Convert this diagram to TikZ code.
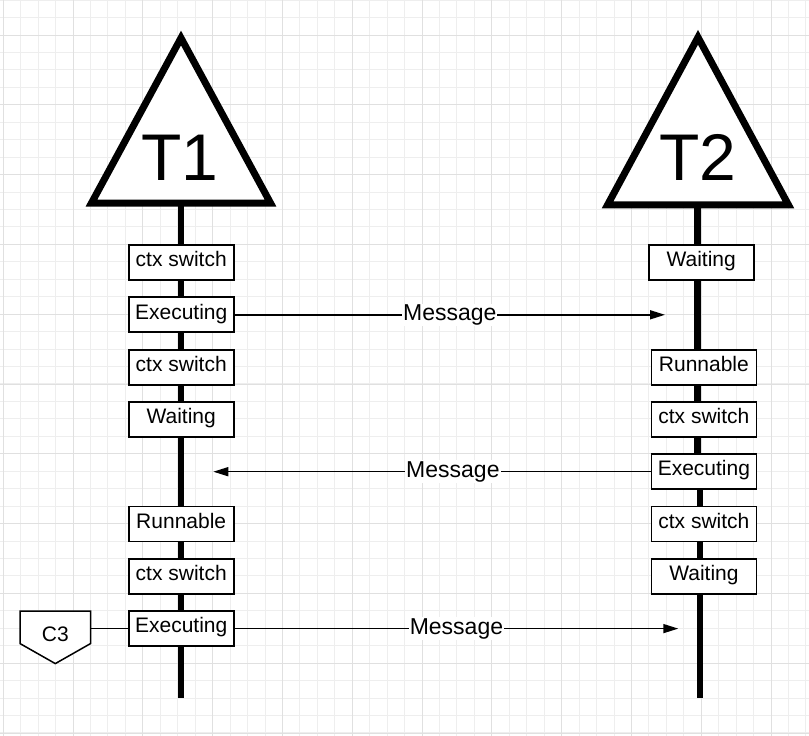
\documentclass[tikz,border=0pt]{standalone}
\usepackage{fontspec}
\setmainfont{Liberation Sans}
\usetikzlibrary{arrows.meta}
\definecolor{gridminor}{HTML}{EEEEEE}
\definecolor{gridmajor}{HTML}{E0E0E0}
\begin{document}
\begin{tikzpicture}[x=1pt,y=-1pt,
  statebox/.style={draw, line width=1.8pt, fill=white, minimum width=105pt,
    minimum height=35pt, inner sep=0pt, text height=15pt, text depth=6.6pt,
    font=\fontsize{21}{25}\selectfont},
  lifeline/.style={line width=6.7pt},
  thread/.style={draw, line width=7pt, line join=miter, fill=white},
  threadlabel/.style={anchor=base, inner sep=0pt, font=\fontsize{66}{70}\selectfont},
  msg/.style={line width=1.5pt, -{Triangle[length=15pt,width=9pt]}},
  msglabel/.style={fill=white, inner sep=1pt, font=\fontsize{23}{27}\selectfont},
  c3box/.style={minimum width=70pt, minimum height=34.6pt, inner sep=0pt},
  c3text/.style={inner sep=0pt, font=\fontsize{21}{25}\selectfont},
  plainline/.style={line width=1.5pt}
]
\useasboundingbox (0,0) rectangle (809,736);
\fill[white] (0,0) rectangle (809,736);
% grid (snapped to pixel centres)
\foreach \i in {0,...,46} \draw[gridminor, line width=1pt] ({floor(3.3+17.45*\i)+0.5},0) -- ({floor(3.3+17.45*\i)+0.5},736);
\foreach \j in {0,...,42} \draw[gridminor, line width=1pt] (0,{floor(0.1+17.45*\j)+0.5}) -- (809,{floor(0.1+17.45*\j)+0.5});
\foreach \i in {0,...,11} \draw[gridmajor, line width=1pt] ({floor(3.3+69.8*\i)+0.5},0) -- ({floor(3.3+69.8*\i)+0.5},736);
\foreach \j in {0,...,10} \draw[gridmajor, line width=1pt] (0,{floor(35+69.8*\j)+0.5}) -- (809,{floor(35+69.8*\j)+0.5});

% lifelines
\coordinate (t1foot) at (181,204);
\coordinate (t1end) at (181,698.3);
\coordinate (t2foot) at (697.7,205);
\coordinate (t2jog) at (697.7,455);
\coordinate (t2jogb) at (700,455);
\coordinate (t2end) at (700,698.3);
\draw[lifeline] (t1foot) -- (t1end);
\draw[lifeline] (t2foot) -- (t2jog);
\draw[lifeline] (t2jogb) -- (t2end);

% threads
\draw[thread] (181,38) -- (270.5,203) -- (91.5,203) -- cycle;
\node[threadlabel] (t1) at (180,180) {T1};
\draw[thread] (698,37.3) -- (788.4,204.8) -- (607.6,204.8) -- cycle;
\node[threadlabel] (t2) at (697.7,180) {T2};

% left states
\node[statebox] (l1) at (181.2,262.5) {ctx switch};
\node[statebox] (l2) at (181.2,314.8) {Executing};
\node[statebox] (l3) at (181.2,367.1) {ctx switch};
\node[statebox] (l4) at (181.2,419.4) {Waiting};
\node[statebox] (l5) at (181.2,524.0) {Runnable};
\node[statebox] (l6) at (181.2,576.3) {ctx switch};
\node[statebox] (l7) at (181.2,628.6) {Executing};

% right states
\node[statebox] (r1) at (701.2,262.5) {Waiting};
\node[statebox] (r2) at (703.9,367.1) {Runnable};
\node[statebox] (r3) at (703.9,419.4) {ctx switch};
\node[statebox] (r4) at (703.9,471.7) {Executing};
\node[statebox] (r5) at (703.9,524.0) {ctx switch};
\node[statebox] (r6) at (703.9,576.3) {Waiting};

% messages
\coordinate (m1end) at (665,314.8);
\coordinate (m2end) at (213.3,471.7);
\coordinate (m3end) at (678.3,628.6);
\draw[msg] (l2.east) -- node[msglabel, pos=0.5] {Message} (m1end);
\draw[msg] (r4.west) -- node[msglabel, pos=0.452] {Message} (m2end);
\draw[msg] (l7.east) -- node[msglabel, pos=0.5] {Message} (m3end);

% C3 off-page connector
\node[c3box] (c3) at (55.3,628.6) {};
\draw[plainline, fill=white] (c3.north west) -- (c3.north east) -- ([yshift=2.5pt]c3.south east)
  -- ([yshift=-17.5pt]c3.south) -- ([yshift=2.5pt]c3.south west) -- cycle;
\node[c3text] (c3t) at (55.3,634) {C3};
\draw[plainline] (c3.east) -- (l7.west);
\end{tikzpicture}
\end{document}
